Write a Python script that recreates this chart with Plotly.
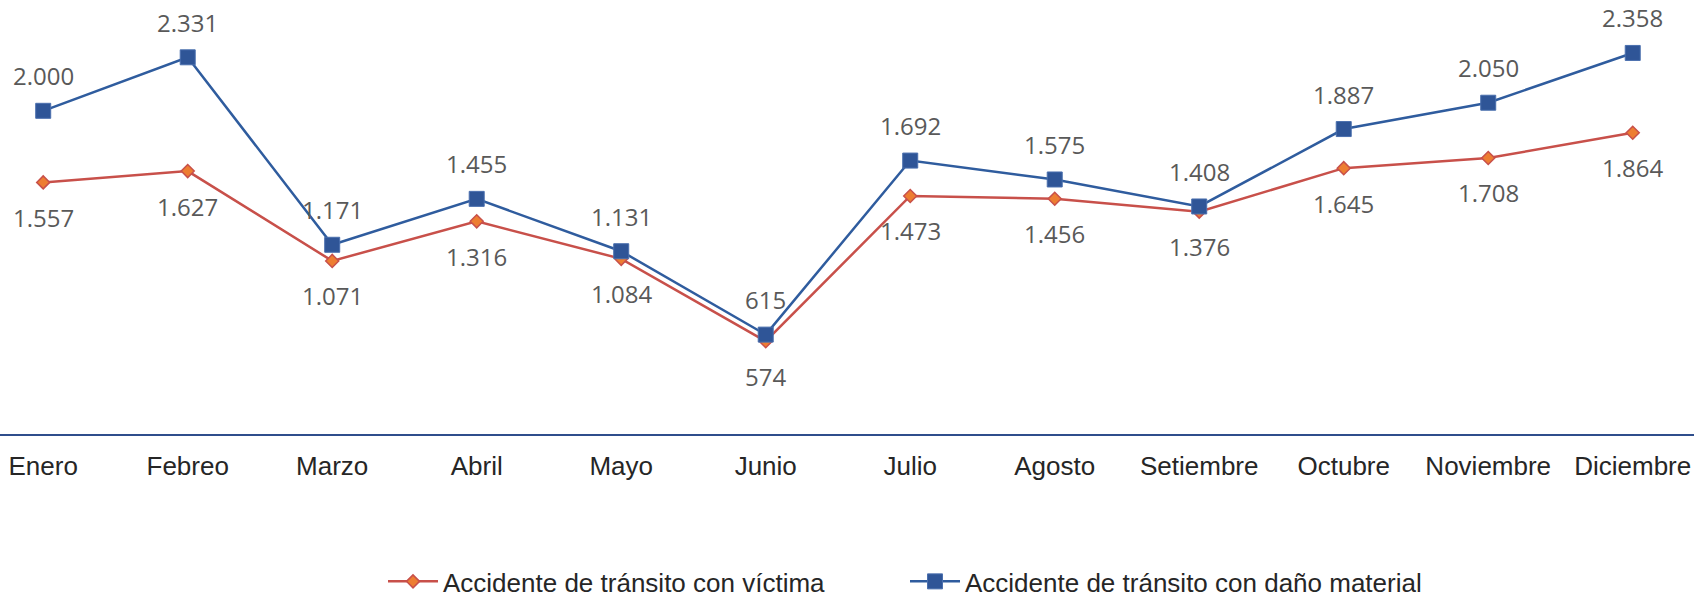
import plotly.graph_objects as go

months = ["Enero", "Febreo", "Marzo", "Abril", "Mayo", "Junio", "Julio",
          "Agosto", "Setiembre", "Octubre", "Noviembre", "Diciembre"]
victima = [1557, 1627, 1071, 1316, 1084, 574, 1473, 1456, 1376, 1645, 1708, 1864]
material = [2000, 2331, 1171, 1455, 1131, 615, 1692, 1575, 1408, 1887, 2050, 2358]
name_victima = "Accidente de tránsito con víctima"
name_material = "Accidente de tránsito con daño material"

def fmt(v):
    return f"{v:,}".replace(",", ".")

x_idx = list(range(len(months)))

fig = go.Figure()
fig.add_trace(go.Scatter(
    x=x_idx, y=victima, name=name_victima, mode="lines+markers",
    line=dict(color="#C8504A", width=2.5),
    marker=dict(symbol="diamond", size=10, color="#ED7D31",
                line=dict(color="#C8504A", width=1.5)),
    hoverinfo="skip"))
fig.add_trace(go.Scatter(
    x=x_idx, y=material, name=name_material, mode="lines+markers",
    line=dict(color="#2F5C9E", width=2.5),
    marker=dict(symbol="square", size=15, color="#2F5597",
                line=dict(color="#4A6FAE", width=1)),
    hoverinfo="skip"))

annotations = []
label_font = dict(family="Open Sans", size=24, color="#595959")
for i, v in enumerate(material):
    annotations.append(dict(x=i, y=v, xref="x", yref="y", text=fmt(v),
                            showarrow=False, yshift=35, yanchor="middle",
                            font=label_font))
for i, v in enumerate(victima):
    annotations.append(dict(x=i, y=v, xref="x", yref="y", text=fmt(v),
                            showarrow=False, yshift=-35, yanchor="middle",
                            font=label_font))

fig.update_layout(
    width=1694, height=596,
    margin=dict(l=0, r=0, t=30, b=162, autoexpand=False),
    paper_bgcolor="white", plot_bgcolor="white",
    annotations=annotations,
    showlegend=True,
    legend=dict(orientation="h", x=383 / 1694, xanchor="left",
                y=-0.365, yanchor="middle",
                font=dict(family="Liberation Sans", size=26, color="#262626"),
                itemwidth=50, entrywidth=457, bgcolor="rgba(0,0,0,0)"),
)
fig.update_xaxes(
    range=[-0.299, 11.424], tickmode="array", tickvals=x_idx, ticktext=months,
    showgrid=False, zeroline=False, showline=True, linecolor="#2F4E8C",
    linewidth=2, ticks="", automargin=False, ticklabelstandoff=8,
    tickfont=dict(family="Liberation Sans", size=26, color="#262626"),
)
fig.update_yaxes(range=[0, 2500], showgrid=False, zeroline=False,
                 showticklabels=False, showline=False, automargin=False)

fig.write_html("out.html", config={"displayModeBar": False},
               post_script="document.body.style.margin='0';document.body.style.overflow='hidden';")
